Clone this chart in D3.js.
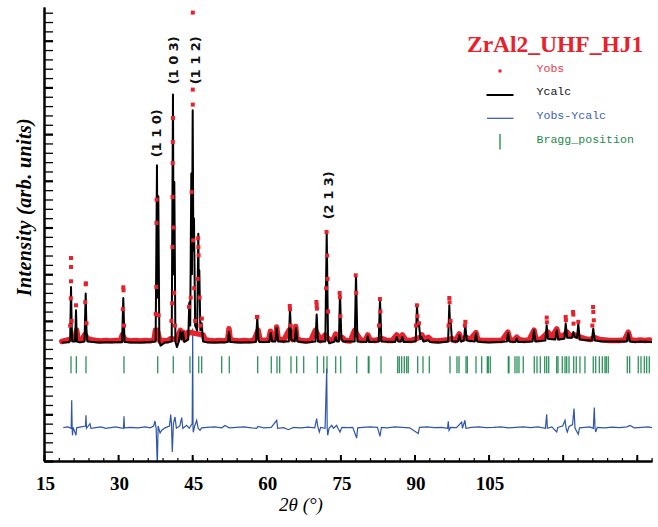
<!DOCTYPE html>
<html><head><meta charset="utf-8">
<script src="https://cdn.jsdelivr.net/npm/d3@7"></script>
<style>html,body{margin:0;padding:0;background:#fff;}svg{display:block;}</style>
</head><body>
<svg id="chart" width="658" height="527"></svg>
<script>
// ---------- DATA ----------
const xMajorTicks = [15, 30, 45, 60, 75, 90, 105, 120, 135];
const xTickLabels = {15: "15", 30: "30", 45: "45", 60: "60", 75: "75", 90: "90", 105: "105"};
const chartTitle = "ZrAl2_UHF_HJ1";
const legendNames = ["Yobs", "Ycalc", "Yobs-Ycalc", "Bragg_position"];

// Ycalc profile: [2theta, intensity]
const calcProfile = [
 [18.6,540],[20.1,545],[20.3,600],[20.47,1726],[20.6,900],[20.75,560],
 [21.3,560],[21.48,1227],[21.65,560],[22.2,540],
 [23.2,560],[23.44,1585],[23.6,800],[23.8,560],
 [26,540],[28,545],[30.8,545],[31.05,1490],[31.3,550],
 [33,540],[35,540],[37.6,560],[37.87,4332],[38.0,1500],[38.14,3668],[38.35,560],[38.6,470],[39.5,540],
 [40.85,560],[41.11,5846],[41.24,2000],[41.38,3974],[41.6,560],[41.9,440],[42.3,560],
 [42.63,777],[42.85,600],[43.14,756],[43.4,550],
 [44.2,600],[44.41,1392],[44.6,900],[44.82,4154],[44.95,2000],[45.10,5510],[45.23,2500],[45.36,3197],[45.6,900],[46.0,800],
 [46.24,2869],[46.34,1600],[46.44,2084],[46.65,800],[46.92,949],[47.2,560],
 [48,540],[50,540],[52.2,550],[52.45,762],[52.7,550],[55,540],[57.9,550],[58.18,1071],[58.4,600],[58.6,550],
 [60.6,550],[60.89,741],[61.2,560],[61.85,560],[62.11,848],[62.4,560],
 [64.55,560],[64.80,1248],[65.05,600],[65.75,560],[66.01,848],[66.3,560],[68,540],
 [69.95,560],[70.20,1135],[70.45,560],[71.95,560],[72.23,2904],[72.5,600],[72.75,520],
 [73.8,560],[74.05,655],[74.3,560],[74.7,560],[74.92,1597],[75.2,620],[75.5,560],
 [77.9,560],[78.16,1976],[78.45,560],[80.3,550],[80.53,670],[80.8,550],[82.75,560],[83.02,1469],[83.3,560],
 [86.1,550],[86.40,655],[86.7,560],[87.3,560],[87.53,655],[87.8,550],
 [90.25,560],[90.51,1334],[90.7,900],[90.91,927],[91.2,620],[91.46,655],[91.8,560],[92.79,585],[93.1,550],
 [95,540],[96.8,560],[97.05,1334],[97.2,900],[97.33,976],[97.6,560],[98.8,560],[99.07,692],[99.4,560],
 [100.0,580],[100.28,906],[100.6,580],[102.2,560],[102.45,728],[102.7,560],
 [105,540],[108.7,560],[108.93,741],[109.2,560],[110.45,550],[110.69,621],[110.95,550],
 [113.9,560],[114.19,799],[114.5,560],[116.5,580],[116.76,906],[117.0,620],[118.5,600],[118.79,799],[119.1,600],
 [120.35,620],[120.61,942],[120.9,640],[121.9,640],[122.15,762],[122.5,650],[122.9,640],[123.16,942],[123.45,600],
 [125.9,580],[126.19,835],[126.5,580],[128,560],[133.0,560],[133.28,741],[133.6,560],[134.5,550],[136,560],[138.08,550]
];

// Yobs points: [2theta, intensity]
const obsProfile = [
 [18.6,560],[19.4,580],[20.1,600],[20.3,900],[20.42,1484],[20.47,1848],[20.47,2154],[20.47,2347],[20.6,1000],[20.8,620],
 [21.3,650],[21.48,1334],[21.6,800],[21.9,600],
 [22.6,580],[23.2,700],[23.35,1400],[23.44,1784],[23.48,1805],[23.6,950],[23.85,620],
 [24.5,600],[25.5,580],[26.5,570],[27.5,580],[28.5,570],[29.5,580],[30.5,580],[30.85,700],[30.95,1250],[31.05,1719],[31.1,1655],[31.2,900],[31.4,600],
 [32.5,570],[33.5,580],[34.5,570],[35.5,580],[36.5,570],[37.3,600],[37.55,800],[37.62,1150],[37.73,1726],[37.77,3096],[37.8,3597],[37.92,799],[38.2,1120],[38.5,560],
 [39.2,580],[40.0,570],[40.6,620],[40.8,1000],[40.95,1377],[41.0,2582],[41.02,3653],[41.05,4381],[41.08,4831],[41.1,5345],[41.2,3000],[41.35,1600],[41.5,900],[41.8,600],
 [42.6,800],[42.9,650],[43.15,760],[43.5,600],
 [44.2,760],[44.35,1300],[44.7,1500],[44.9,3760],[45.12,7602],[45.12,5953],[45.12,5632],[45.2,2726],[45.4,1700],[45.6,1000],
 [46.1,1900],[46.2,2770],[46.25,2580],[46.3,2405],[46.5,1500],[46.7,900],[46.95,1050],[47.2,700],[47.6,600],
 [48.5,580],[49.5,570],[50.5,580],[51.5,570],[52.2,600],[52.45,830],[52.7,600],[53.5,580],[54.5,570],[55.5,580],[56.5,570],[57.5,580],
 [57.95,700],[58.1,1084],[58.2,1084],[58.35,800],[58.7,600],
 [59.5,580],[60.5,600],[60.85,780],[61.2,600],[62.0,650],[62.1,870],[62.4,620],[63.5,580],
 [64.6,800],[64.75,1320],[64.8,1250],[64.95,900],[65.3,600],[65.95,880],[66.2,620],[67,580],[68,570],[69,580],
 [69.95,800],[70.15,1405],[70.2,1334],[70.25,1263],[70.45,700],[71,580],[71.9,700],[72.1,1700],[72.2,2904],[72.3,2400],[72.4,1900],[72.5,1200],[72.7,600],
 [73.5,580],[74.05,720],[74.5,620],[74.85,1597],[74.9,1505],[75.0,1100],[75.3,650],[76,580],[77,570],[77.9,800],[78.1,1976],[78.2,1600],[78.4,700],[79.2,580],
 [80.1,590],[80.55,700],[81,590],[82,580],[82.8,900],[83.0,1469],[83.1,1200],[83.4,620],[84.5,580],[85.5,580],[86.4,700],[87.0,600],[87.55,700],[88.2,590],[89.2,580],
 [90.3,900],[90.5,1334],[90.6,1100],[90.9,950],[91.2,650],[91.5,700],[92,600],[92.8,650],[93.5,580],[94.5,570],[95.5,580],[96.5,590],
 [96.9,900],[97.05,1490],[97.1,1398],[97.3,1000],[97.6,620],[98.3,580],[99.05,720],[99.5,600],[100.2,900],[100.3,980],[100.6,640],[101.3,600],
 [102.45,750],[102.8,600],[103.7,580],[104.7,580],[105.7,580],[106.7,580],[107.7,580],
 [108.9,760],[109.3,600],[110.0,580],[110.7,650],[111.2,600],[112.2,580],[113.2,590],[114.2,800],[114.6,600],[115.5,600],
 [116.5,700],[116.76,1071],[116.8,970],[117.0,760],[117.8,650],[118.79,830],[119.3,640],[120.3,700],[120.6,1084],[120.65,1013],[120.9,760],
 [121.5,680],[122.1,1191],[122.15,1135],[122.2,942],[122.5,700],[123.16,980],[123.5,650],[124.5,620],[125.5,600],
 [126.0,900],[126.15,1298],[126.2,1191],[126.3,1013],[126.6,640],[127.5,600],[128.5,590],[129.5,580],[130.5,580],[131.5,580],
 [132.5,590],[133.28,760],[133.7,600],[134.7,580],[135.7,590],[136.7,580],[137.5,590],[138.08,580]
];

// Yobs-Ycalc (plotted with its offset already included): [2theta, value]
const diffProfile = [
 [18.91,-1285],[19.8,-1270],[20.5,-1300],[20.61,-701],[20.7,-1300],[20.77,-1450],[20.9,-1280],[21.48,-1450],[21.6,-1290],[22.5,-1270],
 [23.4,-1250],[23.5,-1021],[23.6,-1300],[24.31,-1200],[24.5,-1300],[25.5,-1285],[26.5,-1270],[27.5,-1300],[28.5,-1285],[29.5,-1270],
 [30.5,-1290],[31.1,-1300],[31.19,-1043],[31.3,-1290],[32.5,-1280],[34,-1290],[35.5,-1270],[36.5,-1290],[37.2,-1250],[37.47,-1143],
 [37.7,-1300],[37.94,-2100],[38.1,-1250],[38.5,-1400],[38.83,-1342],[39.5,-1290],[40.4,-1250],[40.65,-1006],[40.8,-1200],[40.97,-1807],
 [41.2,-1200],[41.52,-1058],[41.8,-1300],[42.5,-1250],[42.87,-1071],[43.1,-1300],[43.89,-1236],[44.4,-1300],[45.0,-1200],[45.10,835],
 [45.17,-1300],[45.22,-1385],[45.5,-1250],[45.91,-1128],[46.2,-1300],[46.58,-1342],[46.9,-1290],[48,-1280],[49.5,-1270],[51,-1290],
 [51.64,-1240],[52.5,-1290],[54,-1280],[55.5,-1270],[57,-1290],[58.06,-1300],[58.3,-1260],[59.5,-1290],[61,-1280],[62.11,-1128],
 [62.3,-1300],[63.5,-1285],[64.45,-1330],[65.5,-1280],[67,-1290],[68.5,-1275],[69.8,-1290],[70.20,-1092],[70.4,-1250],[70.73,-1379],
 [71,-1280],[71.9,-1300],[72.23,-21],[72.33,-1300],[72.43,-1450],[72.7,-1300],[73.24,-1236],[73.6,-1300],[74.25,-1236],[74.5,-1300],
 [74.92,-1379],[75.3,-1280],[76.5,-1285],[77.5,-1280],[78.30,-1507],[78.5,-1290],[79.5,-1280],[81,-1270],[82.5,-1280],[83.02,-1471],
 [83.3,-1280],[84.5,-1290],[86,-1270],[87.5,-1280],[89,-1290],[90.77,-1413],[91,-1280],[92.5,-1270],[94,-1285],[95.5,-1280],
 [96.7,-1300],[96.84,-1150],[97.0,-1342],[97.3,-1280],[98.5,-1285],[99.55,-1165],[99.7,-1300],[100.22,-1128],[100.4,-1300],[101.5,-1280],
 [103,-1270],[104.5,-1285],[106,-1280],[107.5,-1270],[109,-1290],[110.5,-1280],[112,-1270],[113.5,-1285],[115,-1270],[116.5,-1300],
 [116.76,-1000],[116.9,-1300],[117.8,-1270],[118.79,-1379],[119.0,-1280],[120.0,-1250],[120.47,-1128],[120.7,-1300],[120.93,-1379],[121.3,-1260],
 [122.0,-1220],[122.29,-878],[122.5,-1300],[123.16,-1428],[123.4,-1290],[124.5,-1280],[125.5,-1270],[126.2,-1300],[126.40,-857],[126.55,-1300],
 [126.68,-1379],[127,-1280],[128.5,-1290],[130,-1275],[131.5,-1285],[133,-1270],[133.62,-1240],[134.5,-1290],[136,-1280],[137.3,-1270],[138.08,-1285]
];

// Bragg reflection positions (2theta)
const braggPositions = [
 20.47,21.54,23.50,31.19,38.02,41.17,44.55,46.32,46.92,50.97,52.51,58.26,61.01,62.17,62.71,65.0,66.15,67.57,
 70.32,71.62,72.29,74.05,75.06,78.30,80.65,80.79,83.22,86.60,86.92,87.41,87.94,88.42,88.74,90.65,91.72,93.0,
 97.19,98.60,99.01,100.43,100.69,102.45,103.60,104.74,104.94,105.34,108.99,109.13,110.34,110.75,111.15,112.02,
 114.25,114.80,115.47,116.36,116.76,117.17,118.79,119.05,119.92,120.47,120.81,121.28,122.23,122.75,123.50,124.51,
 126.19,126.68,127.41,128.02,128.56,128.83,129.23,133.08,133.56,135.30,135.85,136.52,137.00,137.53
];

// Reflection labels: [hkl, 2theta, intensity at label centre]
const peakLabels = [
 ["(1 1 0)", 37.77, 5017],
 ["(1 0 3)", 41.17, 6580],
 ["(1 1 2)", 45.57, 6580],
 ["(2 1 3)", 72.49, 3690]
];

// ---------- LAYOUT ----------
const svg = d3.select("#chart");
const L = 44, R = 652, T = 7, B = 461;
const x = d3.scaleLinear().domain([15, 138.08]).range([L, R]);
const y = d3.scaleLinear().domain([-2000, 7722]).range([B, T]);
const BRAGG_TOP = 242, BRAGG_BOTTOM = -122, BAND_MAX = 900;

const RED = "#e8212b", BLUE = "#2f56aa", GREEN = "#17874a";

svg.append("defs").append("clipPath").attr("id", "plotclip")
  .append("rect").attr("x", L).attr("y", T).attr("width", R - L).attr("height", B - T);

const plot = svg.append("g").attr("clip-path", "url(#plotclip)");

// Bragg ticks
plot.append("g").selectAll("line").data(braggPositions).join("line")
  .attr("x1", d => x(d)).attr("x2", d => x(d))
  .attr("y1", y(BRAGG_TOP)).attr("y2", y(BRAGG_BOTTOM))
  .attr("stroke", GREEN).attr("stroke-width", 1.3).attr("opacity", 0.9);

// Difference curve
plot.append("path").datum(diffProfile)
  .attr("d", d3.line().x(d => x(d[0])).y(d => y(d[1])))
  .attr("fill", "none").attr("stroke", BLUE).attr("stroke-width", 1.2);

// Observed band (dense points near background)
const bandPts = obsProfile.filter(d => d[1] < BAND_MAX);
plot.append("path").datum(bandPts)
  .attr("d", d3.line().x(d => x(d[0])).y(d => y(d[1])))
  .attr("fill", "none").attr("stroke", RED).attr("stroke-width", 5.5)
  .attr("stroke-linejoin", "round").attr("stroke-linecap", "round");

// Calculated profile
plot.append("path").datum(calcProfile)
  .attr("d", d3.line().x(d => x(d[0])).y(d => y(d[1])))
  .attr("fill", "none").attr("stroke", "#000").attr("stroke-width", 2)
  .attr("stroke-linejoin", "round");

// Observed points above the band
plot.append("g").selectAll("rect").data(obsProfile.filter(d => d[1] >= BAND_MAX)).join("rect")
  .attr("x", d => x(d[0]) - 2).attr("y", d => y(d[1]) - 2)
  .attr("width", 4).attr("height", 4).attr("fill", RED);

// Axes
const axisStyle = g => {
  g.select(".domain").attr("stroke", "#000").attr("stroke-width", 2);
  g.selectAll(".tick line").attr("stroke", "#000");
};
const xMinor = d3.range(15, 138.01, 3);
svg.append("g").attr("transform", `translate(0,${B})`)
  .call(d3.axisBottom(x).tickValues(xMinor).tickSize(-3).tickSizeOuter(0).tickFormat(""))
  .call(axisStyle).call(g => g.selectAll(".tick line").attr("stroke-width", 1.2));
svg.append("g").attr("transform", `translate(0,${B})`)
  .call(d3.axisBottom(x).tickValues(xMajorTicks).tickSize(-6).tickSizeOuter(0).tickPadding(16)
    .tickFormat(d => xTickLabels[d] || ""))
  .call(axisStyle)
  .call(g => g.selectAll(".tick line").attr("stroke-width", 2))
  .call(g => g.selectAll(".tick text").attr("font-family", "'Liberation Serif', 'Times New Roman', serif")
    .attr("font-weight", "bold").attr("font-size", 19).attr("fill", "#000").attr("dx", 1));

const yMinor = d3.range(-2000, 7722, 200);
const yMajor = d3.range(-2000, 7722, 1000);
svg.append("g").attr("transform", `translate(${L},0)`)
  .call(d3.axisLeft(y).tickValues(yMinor).tickSize(-9).tickSizeOuter(0).tickFormat(""))
  .call(axisStyle).call(g => g.selectAll(".tick line").attr("stroke-width", 1.3));
svg.append("g").attr("transform", `translate(${L},0)`)
  .call(d3.axisLeft(y).tickValues(yMajor).tickSize(-9).tickSizeOuter(0).tickFormat(""))
  .call(axisStyle).call(g => g.selectAll(".tick line").attr("stroke-width", 2.2));

// Axis titles
svg.append("text").attr("x", 301).attr("y", 511).attr("text-anchor", "middle")
  .attr("font-family", "'Liberation Serif', 'Times New Roman', serif").attr("font-style", "italic")
  .attr("font-size", 19).text("2θ (°)");
svg.append("text").attr("transform", "translate(24,207) rotate(-90)").attr("text-anchor", "middle")
  .attr("dy", "0.35em")
  .attr("font-family", "'Liberation Serif', 'Times New Roman', serif").attr("font-style", "italic")
  .attr("font-weight", "bold").attr("font-size", 20).attr("letter-spacing", 0.4)
  .text("Intensity (arb. units)");

// Peak labels
svg.append("g").selectAll("text").data(peakLabels).join("text")
  .attr("transform", d => `translate(${x(d[1])},${y(d[2])}) rotate(-90)`)
  .attr("text-anchor", "middle").attr("dy", "0.35em")
  .attr("font-family", "'DejaVu Sans', sans-serif").attr("font-weight", "bold").attr("font-size", 13)
  .attr("fill", "#111").text(d => d[0]);

// Title
svg.append("text").attr("x", 467).attr("y", 51.5)
  .attr("font-family", "'Liberation Serif', 'Times New Roman', serif").attr("font-weight", "bold")
  .attr("font-size", 23.5).attr("fill", RED).text(chartTitle);

// Legend
const lg = svg.append("g");
const monoFont = "'Liberation Mono', 'DejaVu Sans Mono', monospace";
lg.append("rect").attr("x", 498.5).attr("y", 69.5).attr("width", 3).attr("height", 3).attr("fill", RED);
lg.append("line").attr("x1", 486.5).attr("x2", 513.5).attr("y1", 95).attr("y2", 95).attr("stroke", "#000").attr("stroke-width", 2);
lg.append("line").attr("x1", 487).attr("x2", 513.5).attr("y1", 118.3).attr("y2", 118.3).attr("stroke", BLUE).attr("stroke-width", 1.2);
lg.append("line").attr("x1", 500).attr("x2", 500).attr("y1", 134).attr("y2", 149.5).attr("stroke", GREEN).attr("stroke-width", 1.3);
const legendColors = ["#ea3a46", "#111", "#3c62b8", "#1f8a4c"];
const legendBaselines = [71.7, 95.3, 118.8, 142.5];
lg.selectAll("text.leg").data(legendNames).join("text").attr("class", "leg")
  .attr("x", 536.5).attr("y", (d, i) => legendBaselines[i])
  .attr("font-family", monoFont).attr("font-size", 11.6)
  .attr("fill", (d, i) => legendColors[i]).text(d => d);
</script>
</body></html>
